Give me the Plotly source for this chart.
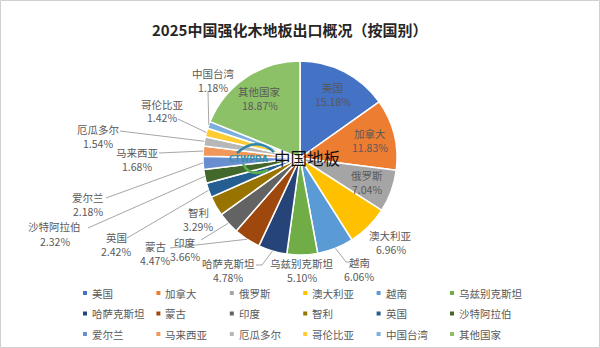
import math
import plotly.graph_objects as go

# 2025 laminate flooring exports by destination (share of total, %)
categories = ["美国", "加拿大", "俄罗斯", "澳大利亚", "越南", "乌兹别克斯坦",
              "哈萨克斯坦", "蒙古", "印度", "智利", "英国", "沙特阿拉伯",
              "爱尔兰", "马来西亚", "厄瓜多尔", "哥伦比亚", "中国台湾", "其他国家"]
shares = [15.18, 11.83, 7.04, 6.96, 6.06, 5.10,
          4.78, 4.47, 3.66, 3.29, 2.42, 2.32,
          2.18, 1.68, 1.54, 1.42, 1.18, 18.87]
colors = ["#4472C4", "#ED7D31", "#A5A5A5", "#FFC000", "#5B9BD5", "#70AD47",
          "#264478", "#9E480E", "#636363", "#997300", "#255E91", "#43682B",
          "#698ED0", "#F1975A", "#B7B7B7", "#FFCD33", "#7CAFDD", "#8CC168"]

TITLE = "2025中国强化木地板出口概况（按国别）"

# ---- canvas / layout geometry (pixels) ----
W, H = 600, 348
CX, CY, R = 300, 158, 97          # pie centre and radius


def px(x):
    return x / W


def py(y):
    return 1 - y / H


LABEL_COLOR = "#595959"
LINE_COLOR = "#A6A6A6"
FONT = "Noto Sans CJK SC"
FS = 10.5

# labels drawn inside their slices
inside = {"美国", "加拿大", "俄罗斯", "其他国家"}
# outside labels: (x centre, y of first line) and leader-line bend points (pixels)
outside = {
    "澳大利亚": ((391, 236), []),
    "越南": ((359, 262), [(346, 262), (350, 262)]),
    "乌兹别克斯坦": ((302, 263), []),
    "哈萨克斯坦": ((228, 263), [(262, 265), (256, 265)]),
    "蒙古": ((155, 246), [(170, 248)]),
    "印度": ((185, 242), [(201, 240)]),
    "智利": ((198, 212), []),
    "英国": ((116, 237), [(127, 238)]),
    "沙特阿拉伯": ((55, 227), [(88, 228)]),
    "爱尔兰": ((88, 197), [(106, 198)]),
    "马来西亚": ((137, 152), [(159, 153)]),
    "厄瓜多尔": ((98, 129), [(120, 131)]),
    "哥伦比亚": ((162, 104), [(178, 119)]),
    "中国台湾": ((213, 73), [(208, 92)]),
}
LINE_GAP = 14

fig = go.Figure()
fig.add_trace(go.Pie(
    labels=categories,
    values=shares,
    sort=False,
    direction="clockwise",
    rotation=0,
    marker=dict(colors=colors, line=dict(color="white", width=1.5)),
    textinfo="none",
    hoverinfo="label+percent",
    showlegend=False,
    domain=dict(x=[px(CX - R), px(CX + R)], y=[py(CY + R), py(CY - R)]),
))

annotations = []
shapes = []


def text_at(x, y, s, size=FS, color=LABEL_COLOR, xanchor="center", family=FONT):
    annotations.append(dict(x=px(x), y=py(y), xref="paper", yref="paper", text=s,
                            showarrow=False, xanchor=xanchor, yanchor="middle",
                            font=dict(size=size, color=color, family=family)))


total = sum(shares)
cum = 0.0
for name, val in zip(categories, shares):
    mid = 2 * math.pi * (cum + val / 2) / total
    cum += val
    pct = f"{val:.2f}%"
    if name in inside:
        rr = 0.74 * R
        tx, ty = CX + rr * math.sin(mid), CY - rr * math.cos(mid)
        text_at(tx, ty - LINE_GAP / 2, name)
        text_at(tx, ty + LINE_GAP / 2, pct)
        continue
    (tx, ty), bends = outside[name]
    text_at(tx, ty, name)
    text_at(tx, ty + LINE_GAP, pct)
    if bends:
        ex, ey = CX + R * math.sin(mid), CY - R * math.cos(mid)
        pts = [(ex, ey)] + bends
        path = "M" + " L".join(f"{px(a):.5f},{py(b):.5f}" for a, b in pts)
        shapes.append(dict(type="path", xref="paper", yref="paper", path=path,
                           line=dict(color=LINE_COLOR, width=1)))

# legend: 6 columns x 3 rows of small colour keys
LEG_X0, LEG_DX = 85, 73.4
LEG_Y0, LEG_DY = 293, 20.5
for i, (name, col) in enumerate(zip(categories, colors)):
    r, c = divmod(i, 6)
    lx, ly = LEG_X0 + c * LEG_DX, LEG_Y0 + r * LEG_DY
    shapes.append(dict(type="rect", xref="paper", yref="paper",
                       x0=px(lx - 2), x1=px(lx + 2), y0=py(ly + 2), y1=py(ly - 2),
                       fillcolor=col, line=dict(width=0)))
    text_at(lx + 5, ly, name, xanchor="left")

# title
text_at(289, 29, f"<b>{TITLE}</b>", size=15, color="#262626")

# watermark in the middle of the pie
text_at(307, 158, "中国地板", size=16.5, color="#111111")
text_at(249, 159, "<b>CTWPDA</b>", size=8, color="#3A8FA3", family="DejaVu Sans")
shapes.append(dict(type="path", xref="paper", yref="paper",
                   path=f"M{px(237)},{py(153)} Q{px(256)},{py(136)} {px(274)},{py(152)}",
                   line=dict(color="#2E86AB", width=2.5)))
shapes.append(dict(type="path", xref="paper", yref="paper",
                   path=f"M{px(243)},{py(164)} Q{px(250)},{py(178)} {px(268)},{py(170)}",
                   line=dict(color="#5BB04E", width=2.5)))

# thin frame round the whole chart
shapes.append(dict(type="rect", xref="paper", yref="paper",
                   x0=px(0.5), x1=px(W - 0.5), y0=py(H - 0.5), y1=py(0.5),
                   line=dict(color="#D0D0D0", width=1)))

fig.update_layout(
    width=W, height=H,
    margin=dict(l=0, r=0, t=0, b=0),
    paper_bgcolor="white", plot_bgcolor="white",
    font=dict(family=FONT, color=LABEL_COLOR),
    showlegend=False,
    annotations=annotations,
    shapes=shapes,
)

fig.write_html("out.html")
